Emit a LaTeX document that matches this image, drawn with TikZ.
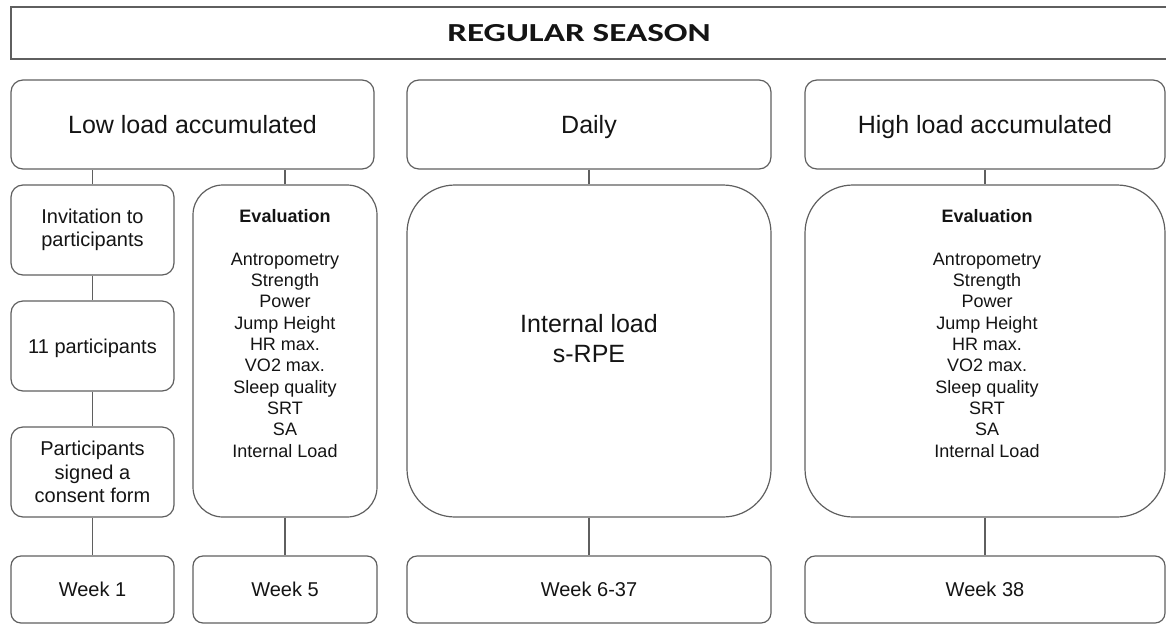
\documentclass[tikz,border=0pt]{standalone}
\usepackage{fontspec}
\setmainfont{Liberation Sans}
\newfontfamily\titlefont[FakeStretch=1.35]{Carlito}
\definecolor{linegray}{RGB}{95,95,95}
\definecolor{textgray}{RGB}{20,20,20}

\begin{document}
\begin{tikzpicture}[x=1pt, y=-1pt,
    box/.style={draw=linegray, line width=1.2pt, rounded corners=12pt, text=textgray, align=center, inner sep=0pt},
    bigbox/.style={box, rounded corners=#1},
    link/.style={draw=linegray, line width=1.2pt},
    headtext/.style={font=\fontsize{25}{30}\selectfont},
    smalltext/.style={font=\fontsize{20}{23.5}\selectfont},
    oneline/.style={text height=#1, text depth=0pt},
    listtext/.style={text=textgray, align=center, inner sep=0pt, font=\fontsize{18}{21.3}\selectfont}]
    \useasboundingbox (0,0) rectangle (1166,624);

    % Title bar
    \node[draw=linegray, line width=1.2pt, minimum width=1160, minimum height=52] (seasonbox) at (591,33) {};
    \node[text=textgray, oneline=16.7pt, font=\titlefont\bfseries\fontsize{26}{30}\selectfont] (season) at (579,33) {REGULAR SEASON};

    % Top row
    \node[box, headtext, oneline=18pt, minimum width=363, minimum height=89] (low) at (192.5,124.5) {Low load accumulated};
    \node[box, headtext, oneline=18pt, minimum width=364, minimum height=89] (daily) at (589,124.5) {Daily};
    \node[box, headtext, oneline=18pt, minimum width=360, minimum height=89] (high) at (985,124.5) {High load accumulated};

    % Low load column
    \node[box, smalltext, minimum width=163, minimum height=90] (invite) at (92.5,230) {Invitation to\\participants};
    \node[box, smalltext, oneline=14.3pt, minimum width=163, minimum height=90] (eleven) at (92.5,346) {11 participants};
    \node[box, smalltext, minimum width=163, minimum height=90] (consent) at (92.5,472) {Participants\\signed a\\consent form};
    \node[bigbox=30pt, minimum width=184, minimum height=332] (evalA) at (285,351) {};
    \node[listtext, anchor=north] (evalAtxt) at (285,209.5) {\textbf{Evaluation}\\[21.3pt]
        Antropometry\\Strength\\Power\\Jump Height\\HR max.\\VO2 max.\\Sleep quality\\SRT\\SA\\Internal Load};

    % Daily column
    \node[bigbox=48pt, minimum width=364, minimum height=332] (load) at (589,351) {};
    \node[text=textgray, align=center, inner sep=0pt, headtext] (loadtxt) at (589,339) {Internal load\\s-RPE};

    % High load column
    \node[bigbox=48pt, minimum width=360, minimum height=332] (evalB) at (985,351) {};
    \node[listtext, anchor=north] (evalBtxt) at (987,209.5) {\textbf{Evaluation}\\[21.3pt]
        Antropometry\\Strength\\Power\\Jump Height\\HR max.\\VO2 max.\\Sleep quality\\SRT\\SA\\Internal Load};

    % Weeks
    \node[bigbox=10pt, smalltext, oneline=14.3pt, minimum width=163, minimum height=67] (week1) at (92.5,589.5) {Week 1};
    \node[bigbox=10pt, smalltext, oneline=14.3pt, minimum width=184, minimum height=67] (week5) at (285,589.5) {Week 5};
    \node[bigbox=10pt, smalltext, oneline=14.3pt, minimum width=364, minimum height=67] (week6) at (589,589.5) {Week 6-37};
    \node[bigbox=10pt, smalltext, oneline=14.3pt, minimum width=360, minimum height=67] (week38) at (985,589.5) {Week 38};

    % Connectors
    \draw[link] (invite.north) -- (invite.north |- low.south);
    \draw[link] (evalA.north) -- (evalA.north |- low.south);
    \draw[link] (invite) -- (eleven);
    \draw[link] (eleven) -- (consent);
    \draw[link] (consent) -- (week1);
    \draw[link] (evalA) -- (week5);
    \draw[link] (daily) -- (load);
    \draw[link] (load) -- (week6);
    \draw[link] (high) -- (evalB);
    \draw[link] (evalB) -- (week38);
\end{tikzpicture}
\end{document}
